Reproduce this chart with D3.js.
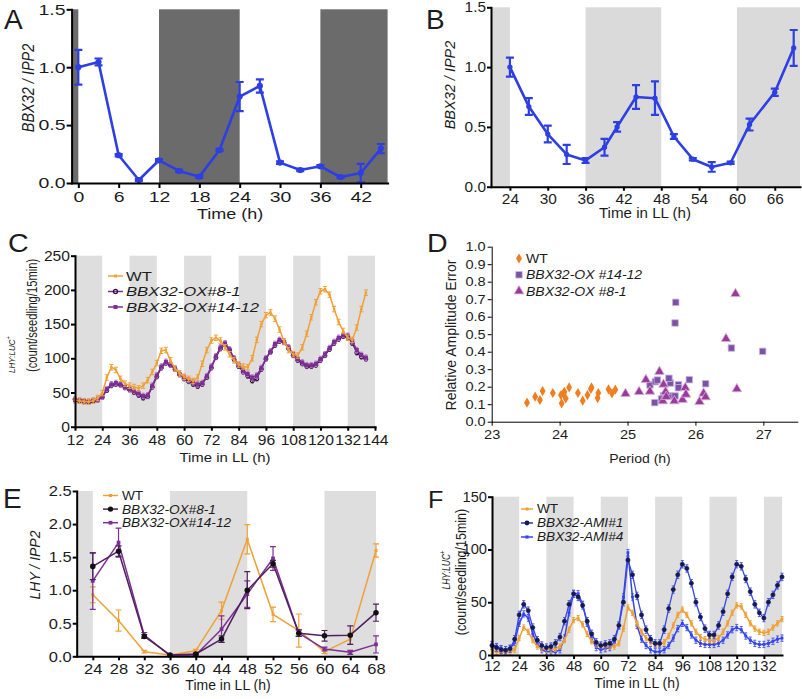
<!DOCTYPE html>
<html><head><meta charset="utf-8">
<script src="https://cdn.jsdelivr.net/npm/d3@7"></script>
<style>body{margin:0;background:#fff}svg{display:block}</style>
</head><body>
<svg id="chart" width="802" height="699"></svg>
<script>
// ---------- Panel A ----------
const aHours = [0,3,6,9,12,15,18,21,24,27,30,33,36,39,42,45];
const aValues = [1.0,1.045,0.24,0.026,0.196,0.104,0.055,0.285,0.746,0.838,0.176,0.112,0.144,0.052,0.086,0.297];
const aErrors = [0.15,0.03,0.01,0.01,0.01,0.01,0.01,0.01,0.126,0.057,0.01,0.01,0.01,0.01,0.08,0.04];
const aDark = [[-1,0],[12,24],[36,46]];
const aXTicks = [0,6,12,18,24,30,36,42];
const aYTicks = [0,0.5,1.0,1.5];
// ---------- Panel B ----------
const bHours = [24,27,30,33,36,39,41,44,47,50,53,56,59,62,66,69];
const bValues = [1.0,0.67,0.44,0.27,0.22,0.33,0.50,0.75,0.74,0.42,0.23,0.165,0.20,0.52,0.79,1.16];
const bErrors = [0.08,0.07,0.07,0.08,0.02,0.07,0.04,0.10,0.14,0.02,0.01,0.04,0.01,0.05,0.03,0.15];
const bShade = [[21,24],[36,48],[60,70]];
const bXTicks = [24,30,36,42,48,54,60,66];
const bYTicks = [0,0.5,1.0,1.5];
// ---------- Panel C ----------
const cHours = [12,14,16,18,20,22,24,26,28,30,32,34,36,38,40,42,44,46,48,50,52,54,56,58,60,62,64,66,68,70,72,74,76,78,80,82,84,86,88,90,92,94,96,98,100,102,104,106,108,110,112,114,116,118,120,122,124,126,128,130,132,134,136,138,140];
const cWT = [39,38,37,36.5,38, 42,49,72,87,83, 70,63,60,58,56, 60,68,80,93,111, 112,97,85,78,73, 70,67,72,92,112, 126,130,126,116,106, 97,91,88,87,100, 127,150,163,167,158, 142,125,112,106,104, 116,136,160,182,198, 201,193,172,153,140, 130,127,145,172,196];
const cOX8 = [40,38,37,36,37, 39,43,53,60,62, 61,57,54,50,46, 42,44,58,73,86, 93,90,84,76,70, 66,62,59,62,72, 86,101,114,120,112, 98,88,80,74,67, 70,84,99,109,119, 125,123,114,104,97, 92,88,88,90,97, 104,113,122,128,132, 131,122,108,102,99];
const cOX14 = [39,38,37,36.5,38, 40,44,55,62,64, 62,58,55,52,49, 45,46,60,75,88, 95,91,85,77,72, 68,65,62,64,74, 88,103,116,122,113, 100,90,82,77,72, 75,86,100,110,121, 127,124,116,106,99, 94,90,90,92,99, 106,115,124,130,134, 133,125,112,105,101];
const cErr = {wt: 4, ox8: 3, ox14: 4};
const cShade = [[12,24],[36,48],[60,72],[84,96],[108,120],[132,144]];
const cXTicks = [12,24,36,48,60,72,84,96,108,120,132,144];
const cYTicks = [0,50,100,150,200,250];
const cLegend = ["WT","BBX32-OX#8-1","BBX32-OX#14-12"];
// ---------- Panel D ----------
const dWTPeriod = [23.52,23.64,23.71,23.75,23.90,24.02,24.03,24.06,24.07,24.09,24.14,24.27,24.34,24.41,24.46,24.47,24.56,24.57,24.72,24.77,24.82];
const dWTRAE = [0.109,0.143,0.124,0.175,0.164,0.152,0.105,0.162,0.171,0.133,0.196,0.164,0.12,0.152,0.187,0.196,0.135,0.164,0.185,0.162,0.183];
const dOX14Period = [25.71,25.70,26.53,26.99,25.33,25.41,25.44,25.63,25.61,25.75,25.75,25.91,26.15,25.40,25.53,25.62,25.70,25.50];
const dOX14RAE = [0.682,0.564,0.421,0.402,0.21,0.229,0.238,0.221,0.248,0.211,0.194,0.24,0.217,0.109,0.149,0.147,0.147,0.13];
const dOX8Period = [26.59,26.45,26.61,24.97,25.17,25.27,25.33,25.47,25.53,25.56,25.52,25.57,25.69,25.81,25.85,25.86,26.06,26.12,26.15];
const dOX8RAE = [0.731,0.474,0.187,0.16,0.171,0.24,0.173,0.286,0.213,0.171,0.118,0.143,0.118,0.126,0.194,0.156,0.114,0.162,0.141];
const dXTicks = [23,24,25,26,27];
const dYTicks = [0,0.1,0.2,0.3,0.4,0.5,0.6,0.7,0.8,0.9,1.0];
const dLegend = ["WT","BBX32-OX #14-12","BBX32-OX #8-1"];
// ---------- Panel E ----------
const eHours = [24,28,32,36,40,44,48,52,56,60,64,68];
const eWT = [0.93,0.54,0.07,0.02,0.085,0.69,1.77,0.635,0.39,0.07,0.26,1.60];
const eWTErr = [0.12,0.16,0.02,0.01,0.02,0.13,0.22,0.11,0.25,0.03,0.08,0.10];
const eOX8 = [1.36,1.59,0.30,0.02,0.035,0.26,1.0,1.40,0.35,0.31,0.32,0.66];
const eOX8Err = [0.20,0.08,0.03,0.01,0.01,0.05,0.28,0.05,0.05,0.08,0.14,0.13];
const eOX14 = [1.14,1.72,0.32,0.01,0.02,0.41,0.94,1.48,0.35,0.11,0.06,0.18];
const eOX14Err = [0.43,0.22,0.04,0.01,0.01,0.20,0.20,0.18,0.05,0.03,0.03,0.13];
const eShade = [[21.5,24],[36,48],[60,68]];
const eXTicks = [24,28,32,36,40,44,48,52,56,60,64,68];
const eYTicks = [0,0.5,1.0,1.5,2.0,2.5];
const eLegend = ["WT","BBX32-OX#8-1","BBX32-OX#14-12"];
// ---------- Panel F ----------
const fHours = [12,14,16,18,20,22,24,26,28,30,32,34,36,38,40,42,44,46,48,50,52,54,56,58,60,62,64,66,68,70,72,74,76,78,80,82,84,86,88,90,92,94,96,98,100,102,104,106,108,110,112,114,116,118,120,122,124,126,128,130,132,134,136,138,140];
const fWT = [4,3,2.5,2.5,3, 5,16,26,22,14, 8,6,5,5,6, 8,14,24,33,35, 29,20,13,10,9, 8,8,8,11,25, 45,40,30,22,16, 12,10,10,12,18, 28,38,43,38,30, 22,17,15,14,14, 16,22,30,40,47, 46,38,30,25,22, 21,22,26,30,34];
const fAMI1 = [9,7,5,4.5,6, 15,38,48,42,26, 14,9,7,8,11, 17,32,48,58,55, 47,32,20,12,9, 10,11,15,28,50, 90,76,56,38,24, 15,11,11,24,44, 62,76,86,82,68, 50,36,25,19,19, 28,41,58,74,86, 84,72,60,48,40, 35,50,57,66,74];
const fAMI4 = [10,8,6,5,6, 12,30,39,35,20, 10,5,3,3,3, 5,16,40,58,58, 48,30,15,7,5, 6,7,12,28,55, 97,55,28,15,9, 5,3,3,5,9, 16,25,30,26,19, 14,11,10,10,10, 11,14,19,24,26, 24,18,14,11,10, 10,11,13,15,16];
const fErr = {wt: 2.5, ami1: 3.5, ami4: 3};
const fShade = [[12,24],[36,48],[60,72],[84,96],[108,120],[132,140]];
const fXTicks = [12,24,36,48,60,72,84,96,108,120,132];
const fYTicks = [0,50,100,150];
const fLegend = ["WT","BBX32-AMI#1","BBX32-AMI#4"];

// ================= drawing =================
const FONT = '"Liberation Sans", Arial, Helvetica, sans-serif';
const TXT = '#1c1c1c';
const svg = d3.select('#chart');
const ORANGE = '#f0a035', PURPLE = '#7e2f94', DPURPLE = '#4e1f60', BLUE = '#2d3fe3';

function axes(g, x, y, o) {
  const bottom = d3.axisBottom(x).tickValues(o.xTicks).tickSize(o.tick).tickPadding(o.xpad).tickSizeOuter(0);
  if (o.xFmt) bottom.tickFormat(o.xFmt); else bottom.tickFormat(d => d);
  const left = d3.axisLeft(y).tickValues(o.yTicks).tickSize(o.tick).tickPadding(o.ypad).tickSizeOuter(0);
  if (o.yFmt) left.tickFormat(o.yFmt); else left.tickFormat(d => d);
  const gx = g.append('g').attr('transform', `translate(0,${y.range()[0]})`).call(bottom);
  const gy = g.append('g').attr('transform', `translate(${x.range()[0]},0)`).call(left);
  [gx, gy].forEach(a => {
    a.attr('font-family', FONT).attr('font-size', o.fs);
    a.select('.domain').attr('stroke', '#000').attr('stroke-width', o.sw).attr('stroke-linecap', 'square');
    a.selectAll('.tick line').attr('stroke', '#000').attr('stroke-width', o.sw);
    a.selectAll('.tick text').attr('fill', TXT);
  });
  gx.selectAll('.tick text').attr('transform', `scale(${o.sx},1)`);
  gy.selectAll('.tick text').attr('x', -(o.tick + o.ypad) / o.sx).attr('transform', `scale(${o.sx},1)`);
}

function label(g, x, y, str, o) {
  const t = g.append('text').attr('font-family', FONT).attr('font-size', o.fs)
    .attr('text-anchor', o.anchor || 'middle').attr('fill', TXT);
  if (o.italic) t.attr('font-style', 'italic');
  const sx = o.sx || 1;
  t.attr('transform', `translate(${x},${y}) scale(${sx},1)` + (o.rot ? ' rotate(-90)' : ''));
  t.text(str);
  if (o.sup) t.append('tspan').attr('font-size', o.fs * 0.7).attr('dy', -o.fs * 0.45).attr('font-style', 'normal').text(o.sup);
  return t;
}

const SYM = {circle: d3.symbolCircle, square: d3.symbolSquare, diamond: d3.symbolDiamond, triangle: d3.symbolTriangle};
function markers(g, pts, m) {
  if (!m) return;
  g.append('g').selectAll('path').data(pts).join('path')
    .attr('transform', p => `translate(${p[0]},${p[1]})`)
    .attr('d', d3.symbol(SYM[m.type], m.size))
    .attr('fill', m.fill).attr('stroke', m.stroke || 'none').attr('stroke-width', m.sw || 1);
}

function series(g, x, y, hours, vals, errs, o) {
  const data = hours.map((h, i) => ({h, v: vals[i], e: Array.isArray(errs) ? errs[i] : errs}));
  const eg = g.append('g').attr('stroke', o.errColor || o.color).attr('stroke-width', o.ew || 1.2).attr('fill', 'none');
  const cw = o.cap;
  data.forEach(d => {
    if (!d.e) return;
    const cx = x(d.h), y1 = y(d.v + d.e), y2 = y(Math.max(0, d.v - d.e));
    eg.append('path').attr('d', `M${cx},${y1}V${y2}M${cx - cw},${y1}H${cx + cw}M${cx - cw},${y2}H${cx + cw}`);
  });
  g.append('path').datum(data).attr('fill', 'none').attr('stroke', o.color).attr('stroke-width', o.lw)
    .attr('stroke-linejoin', 'round').attr('d', d3.line().x(d => x(d.h)).y(d => y(d.v)));
  markers(g, data.map(d => [x(d.h), y(d.v)]), o.marker);
}

function shade(g, x, y, spans, color) {
  g.append('g').selectAll('rect').data(spans).join('rect')
    .attr('x', d => x(d[0])).attr('width', d => x(d[1]) - x(d[0]))
    .attr('y', y.range()[1]).attr('height', y.range()[0] - y.range()[1]).attr('fill', color);
}

function legendRows(g, items, o) {
  items.forEach((it, i) => {
    const yy = o.y0 + i * o.dy;
    g.append('line').attr('x1', o.x0).attr('x2', o.x1).attr('y1', yy).attr('y2', yy)
      .attr('stroke', it.color).attr('stroke-width', it.lw || 1.5);
    markers(g, [[(o.x0 + o.x1) / 2, yy]], it.marker);
    label(g, o.tx, yy + o.fs * 0.36, it.text, {fs: o.fs, anchor: 'start', italic: it.italic, sx: o.sx});
  });
}

// ---------- A ----------
{
  const g = svg.append('g');
  const x = d3.scaleLinear().domain([-1, 46]).range([71.6, 387.6]);
  const y = d3.scaleLinear().domain([0, 1.5]).range([183, 9.3]);
  shade(g, x, y, aDark, '#6b6b6b');
  series(g, x, y, aHours, aValues, aErrors, {color: BLUE, lw: 2.6, ew: 2.2, cap: 4, marker: {type: 'circle', size: 30, fill: BLUE}});
  axes(g, x, y, {xTicks: aXTicks, yTicks: aYTicks, tick: 5, xpad: 3, ypad: 1, fs: 15, sx: 1.3, sw: 2, yFmt: d3.format('.1f')});
  label(g, 4, 29, 'A', {fs: 28, anchor: 'start'});
  label(g, 34, 88, 'BBX32 / IPP2', {fs: 14.5, rot: true, italic: true, sx: 1.15});
  label(g, 230, 219, 'Time (h)', {fs: 15, sx: 1.2});
}
// ---------- B ----------
{
  const g = svg.append('g');
  const x = d3.scaleLinear().domain([21, 70]).range([491, 800]);
  const y = d3.scaleLinear().domain([0, 1.5]).range([186.7, 7.3]);
  shade(g, x, y, bShade, '#dadada');
  series(g, x, y, bHours, bValues, bErrors, {color: BLUE, lw: 2.6, ew: 2.2, cap: 4, marker: {type: 'circle', size: 22, fill: BLUE}});
  axes(g, x, y, {xTicks: bXTicks, yTicks: bYTicks, tick: 4, xpad: 3, ypad: 1, fs: 14, sx: 1.1, sw: 2, yFmt: d3.format('.1f')});
  label(g, 426, 29, 'B', {fs: 28, anchor: 'start'});
  label(g, 455, 85, 'BBX32 / IPP2', {fs: 14.5, rot: true, italic: true, sx: 1.0});
  label(g, 645, 218, 'Time in LL (h)', {fs: 14, sx: 1.08});
}
// ---------- C ----------
{
  const g = svg.append('g');
  const x = d3.scaleLinear().domain([12, 144]).range([75, 375]);
  const y = d3.scaleLinear().domain([0, 250]).range([426.7, 255.7]);
  shade(g, x, y, cShade, '#dedede');
  series(g, x, y, cHours, cOX8, cErr.ox8, {color: DPURPLE, lw: 1.2, ew: 1, cap: 1.5, errColor: '#8a3aa0', marker: {type: 'circle', size: 12, fill: 'none', stroke: '#1a0a22', sw: 1}});
  series(g, x, y, cHours, cOX14, cErr.ox14, {color: PURPLE, lw: 1.5, ew: 1, cap: 1.5, errColor: '#c070d8', marker: {type: 'square', size: 16, fill: PURPLE}});
  series(g, x, y, cHours, cWT, cErr.wt, {color: ORANGE, lw: 1.5, ew: 1, cap: 2, marker: {type: 'square', size: 6, fill: ORANGE}});
  axes(g, x, y, {xTicks: cXTicks, yTicks: cYTicks, tick: 4, xpad: 4, ypad: 1, fs: 14.5, sx: 1.08, sw: 2});
  label(g, 8, 252, 'C', {fs: 26, anchor: 'start', sx: 1.1});
  label(g, 15, 373, 'LHY:LUC', {fs: 8, rot: true, italic: true, anchor: 'start', sx: 1.2, sup: '+'});
  label(g, 37, 372, '(count/seedling/15min)', {fs: 11.2, rot: true, anchor: 'start', sx: 1.3});
  label(g, 225, 462, 'Time in LL (h)', {fs: 13, sx: 1.15});
  legendRows(g, [
    {text: cLegend[0], color: ORANGE, marker: {type: 'square', size: 8, fill: ORANGE}},
    {text: cLegend[1], color: PURPLE, italic: true, marker: {type: 'circle', size: 14, fill: 'none', stroke: '#2a0a32', sw: 1.2}},
    {text: cLegend[2], color: PURPLE, italic: true, marker: {type: 'square', size: 16, fill: PURPLE}}
  ], {x0: 108, x1: 123, tx: 126, y0: 276, dy: 15.5, fs: 12.8, sx: 1.3});
}
// ---------- D ----------
{
  const g = svg.append('g');
  const x = d3.scaleLinear().domain([23, 27.5]).range([491.7, 797.3]);
  const y = d3.scaleLinear().domain([0, 1]).range([421.7, 246.7]);
  const wt = dWTPeriod.map((p, i) => [x(p), y(dWTRAE[i])]);
  const s14 = dOX14Period.map((p, i) => [x(p), y(dOX14RAE[i])]);
  const s8 = dOX8Period.map((p, i) => [x(p), y(dOX8RAE[i])]);
  const mWT = {type: 'diamond', size: 30, fill: '#f07d1f'};
  const m14 = {type: 'square', size: 42, fill: '#7a52a6', stroke: '#c9b6de', sw: 0.8};
  const m8 = {type: 'triangle', size: 40, fill: '#9a3a9c', stroke: '#d7b0d8', sw: 0.8};
  markers(g, wt, mWT);
  markers(g, s14, m14);
  markers(g, s8, m8);
  axes(g, x, y, {xTicks: dXTicks, yTicks: dYTicks, tick: 4, xpad: 4, ypad: 2, fs: 13, sx: 1.12, sw: 1, yFmt: d3.format('.1f')});
  label(g, 427, 252, 'D', {fs: 26, anchor: 'start', sx: 1.1});
  label(g, 456, 335, 'Relative Amplitude Error', {fs: 14, rot: true, sx: 1.05});
  label(g, 640, 463, 'Period (h)', {fs: 13, sx: 1.08});
  [[mWT, 0], [m14, 1], [m8, 2]].forEach(([m, i]) => {
    const yy = 258.5 + i * 16.3;
    markers(g, [[519, yy]], m);
    label(g, 526, yy + 4.6, dLegend[i], {fs: 13, anchor: 'start', italic: i > 0, sx: 1.08});
  });
}
// ---------- E ----------
{
  const g = svg.append('g');
  const x = d3.scaleLinear().domain([21.5, 68]).range([76.7, 376]);
  const y = d3.scaleLinear().domain([0, 2.5]).range([656.3, 491]);
  shade(g, x, y, eShade, '#dedede');
  series(g, x, y, eHours, eWT, eWTErr, {color: ORANGE, lw: 1.5, ew: 1.2, cap: 3, marker: {type: 'square', size: 9, fill: ORANGE}});
  series(g, x, y, eHours, eOX14, eOX14Err, {color: PURPLE, lw: 1.5, ew: 1.2, cap: 3, marker: {type: 'square', size: 14, fill: PURPLE}});
  series(g, x, y, eHours, eOX8, eOX8Err, {color: DPURPLE, lw: 1.5, ew: 1.2, cap: 3, marker: {type: 'circle', size: 24, fill: '#111'}});
  axes(g, x, y, {xTicks: eXTicks, yTicks: eYTicks, tick: 4, xpad: 3, ypad: 1, fs: 15, sx: 1.1, sw: 2, yFmt: d3.format('.1f')});
  label(g, 3, 508, 'E', {fs: 28, anchor: 'start'});
  label(g, 40, 565, 'LHY / IPP2', {fs: 14, rot: true, italic: true, sx: 1.1});
  label(g, 228, 690, 'Time in LL (h)', {fs: 14});
  legendRows(g, [
    {text: eLegend[0], color: ORANGE, marker: {type: 'square', size: 9, fill: ORANGE}},
    {text: eLegend[1], color: DPURPLE, italic: true, marker: {type: 'circle', size: 22, fill: '#111'}},
    {text: eLegend[2], color: PURPLE, italic: true, marker: {type: 'square', size: 14, fill: PURPLE}}
  ], {x0: 103, x1: 118, tx: 122, y0: 495.5, dy: 13.6, fs: 12.4, sx: 1.1});
}
// ---------- F ----------
{
  const g = svg.append('g');
  const x = d3.scaleLinear().domain([12, 140]).range([492, 782]);
  const y = d3.scaleLinear().domain([0, 150]).range([655, 496.7]);
  shade(g, x, y, fShade, '#dedede');
  series(g, x, y, fHours, fAMI4, fErr.ami4, {color: '#3343ef', lw: 1.5, ew: 1, cap: 1.5, errColor: '#4d5cf0', marker: {type: 'square', size: 8, fill: '#3343ef'}});
  series(g, x, y, fHours, fWT, fErr.wt, {color: ORANGE, lw: 1.5, ew: 1, cap: 1.5, marker: {type: 'square', size: 8, fill: ORANGE}});
  series(g, x, y, fHours, fAMI1, fErr.ami1, {color: '#3a48e0', lw: 1.3, ew: 1, cap: 1.5, errColor: '#4656ee', marker: {type: 'circle', size: 14, fill: '#151a50', stroke: '#151a50', sw: 0.6}});
  axes(g, x, y, {xTicks: fXTicks, yTicks: fYTicks, tick: 4, xpad: 2, ypad: 1, fs: 14, sx: 1.05, sw: 2});
  label(g, 428, 508, 'F', {fs: 24, anchor: 'start', sx: 1.05});
  label(g, 450, 570, 'LHY:LUC', {fs: 8.5, rot: true, italic: true, sx: 1.2, sup: '+'});
  label(g, 466, 572, '(count/seedling/15min)', {fs: 12.5, rot: true, sx: 1.1});
  label(g, 637, 688, 'Time in LL (h)', {fs: 14});
  legendRows(g, [
    {text: fLegend[0], color: ORANGE, marker: {type: 'square', size: 9, fill: ORANGE}},
    {text: fLegend[1], color: '#2a35b5', italic: true, marker: {type: 'circle', size: 18, fill: '#151a50'}},
    {text: fLegend[2], color: '#3343ef', italic: true, marker: {type: 'square', size: 10, fill: '#3343ef'}}
  ], {x0: 521, x1: 533, tx: 537, y0: 509, dy: 14, fs: 12.4, sx: 1.1});
}
</script>
</body></html>
